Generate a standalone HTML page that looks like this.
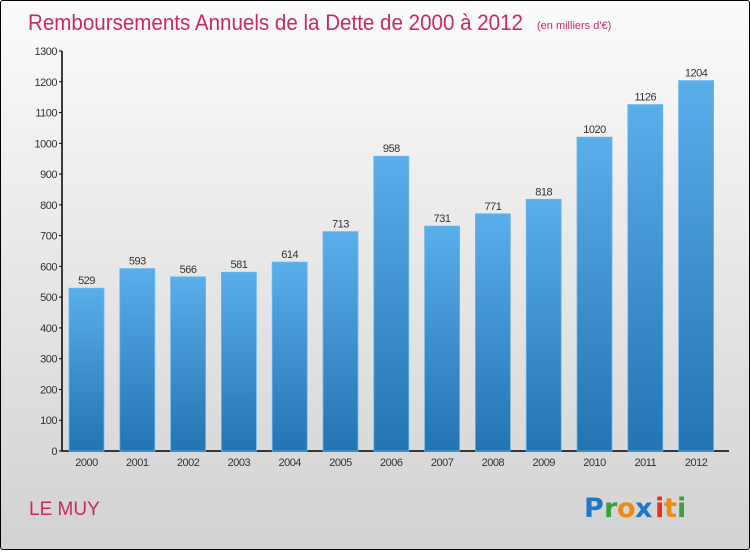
<!DOCTYPE html>
<html><head><meta charset="utf-8"><style>
body{margin:0;width:750px;height:550px;overflow:hidden;font-family:"Liberation Sans",sans-serif}
#c{position:absolute;left:0;top:0;width:748px;height:548px;border:1px solid #000;border-radius:3px;background:linear-gradient(#fbfbfb,#d2d2d2)}
</style></head><body>
<div id="c">
<svg width="750" height="550" xmlns="http://www.w3.org/2000/svg" id="s">
<defs><linearGradient id="g" x1="0" y1="0" x2="0" y2="1"><stop offset="0" stop-color="#5aaeea"/><stop offset="1" stop-color="#2374b2"/></linearGradient></defs>
<text x="27" y="29" font-size="22" fill="#cc2a5c" textLength="495" lengthAdjust="spacingAndGlyphs">Remboursements Annuels de la Dette de 2000 à 2012</text>
<text x="536" y="28" font-size="11" fill="#cc2a5c">(en milliers d'€)</text>
<text x="28" y="514" font-size="19" fill="#cc2a5c">LE MUY</text>
<g font-size="27" font-weight="bold" font-family="'DejaVu Sans',sans-serif">
<text x="583" y="516" fill="#1f77c8">P</text><text x="603" y="516" fill="#3aa040">r</text><text x="616" y="516" fill="#f08a10">o</text><text x="634" y="516" fill="#1f77c8">x</text><text x="654" y="516" fill="#e43020">i</text><text x="663" y="516" fill="#f08a10">t</text><text x="676" y="516" fill="#3aa040">i</text></g>
<g id="axes"></g><g id="bars"></g>
</svg></div>
<script>
const years=["2000","2001","2002","2003","2004","2005","2006","2007","2008","2009","2010","2011","2012"];
const values=[529,593,566,581,614,713,958,731,771,818,1020,1126,1204];
const yTicks=[0,100,200,300,400,500,600,700,800,900,1000,1100,1200,1300];
const NS="http://www.w3.org/2000/svg";
const y=v=>450-v*400/1300;
const x=i=>85.5+i*50.8;
function mk(t,a,p){const e=document.createElementNS(NS,t);for(const k in a)e.setAttribute(k,a[k]);p.appendChild(e);return e;}
const ax=document.getElementById('axes'),bg=document.getElementById('bars');
const yl=mk('line',{x1:61,y1:50,x2:61,y2:450,stroke:'#000','stroke-width':1.5},ax);


const xl=mk('line',{x1:61,y1:450,x2:728,y2:450,stroke:'#000','stroke-width':1.5},ax);


yTicks.forEach(t=>{
 mk('line',{x1:58,y1:y(t),x2:61,y2:y(t),stroke:'#000'},ax);
 const tx=mk('text',{x:56,y:y(t)+4,'font-size':11,fill:'#333','text-anchor':'end','letter-spacing':'-0.5'},ax);
 tx.textContent=t;
 
 
});
values.forEach((v,i)=>{
 const r=mk('rect',{x:x(i)-17.5,y:y(v),width:35,height:450-y(v),fill:'url(#g)',stroke:'#6bb8ee','stroke-width':0.8},bg);
 
 
 const l=mk('text',{x:x(i),y:y(v)-4,'font-size':11,fill:'#333','text-anchor':'middle','letter-spacing':'-0.5'},bg);
 l.textContent=v;
 
 
 const xt=mk('text',{x:x(i),y:465,'font-size':11,fill:'#333','text-anchor':'middle','letter-spacing':'-0.5'},bg);
 xt.textContent=years[i];
 
 
});
</script>
</body></html>
